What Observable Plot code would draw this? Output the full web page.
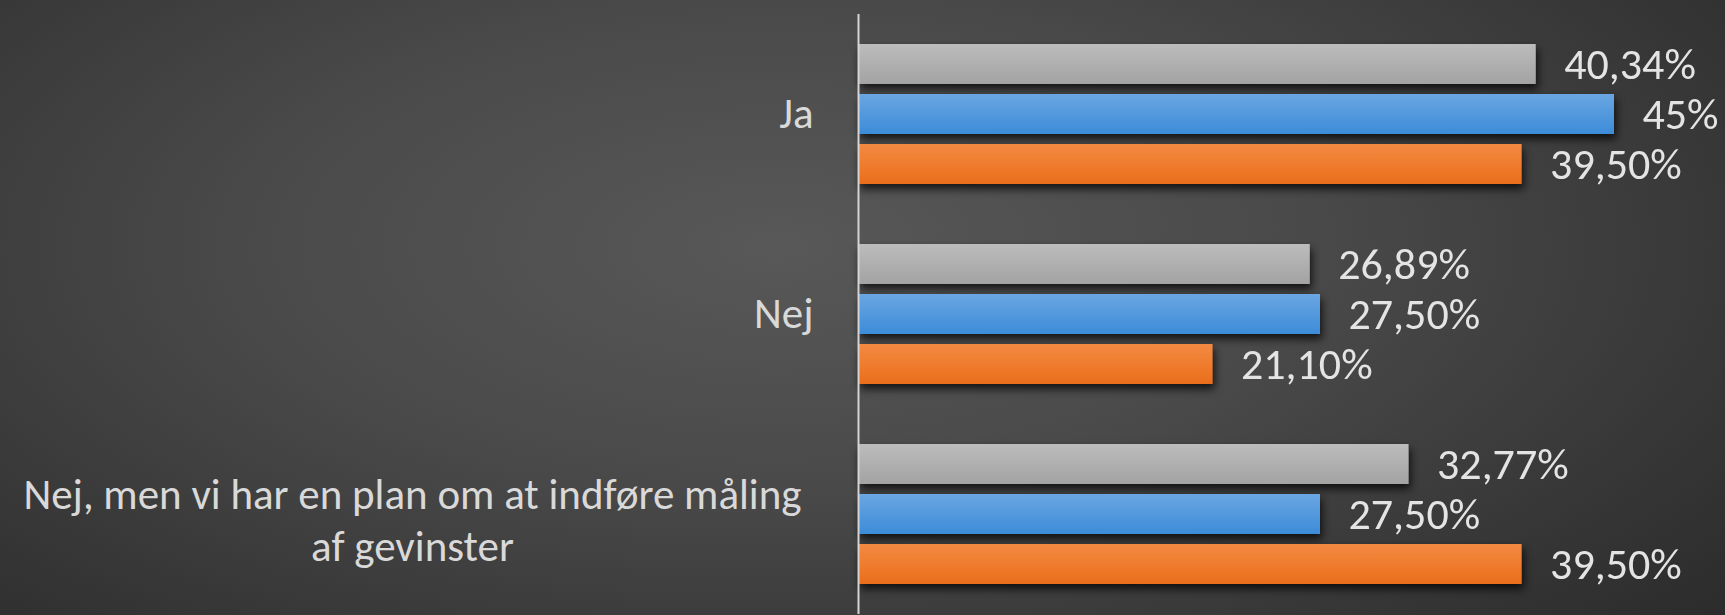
<!DOCTYPE html>
<html>
<head>
<meta charset="utf-8">
<script src="https://cdn.jsdelivr.net/npm/d3@7"></script>
<script src="https://cdn.jsdelivr.net/npm/@observablehq/plot@0.6"></script>
<style>
  html, body { margin: 0; padding: 0; }
  body {
    width: 1725px; height: 615px; overflow: hidden;
    background: radial-gradient(ellipse 75% 95% at 45% 40%, #585858 0%, #4a4a4a 40%, #343434 80%, #2a2a2a 100%);
    font-family: Carlito, Calibri, Lato, sans-serif;
  }
  #chart svg { display: block; background: transparent; }
</style>
</head>
<body>
<div id="chart"></div>
<script>
const categories = ["Ja", "Nej", "Nej, men vi har en plan om at indføre måling af gevinster"];
const categoryLabels = ["Ja", "Nej", "Nej, men vi har en plan om at indføre måling\naf gevinster"];
const series = ["Serie 1", "Serie 2", "Serie 3"];
const serie1 = [40.34, 26.89, 32.77];
const serie2 = [45, 27.5, 27.5];
const serie3 = [39.5, 21.1, 39.5];
const labels1 = ["40,34%", "26,89%", "32,77%"];
const labels2 = ["45%", "27,50%", "27,50%"];
const labels3 = ["39,50%", "21,10%", "39,50%"];

const seriesValues = [serie1, serie2, serie3];
const seriesLabels = [labels1, labels2, labels3];
const data = [];
categories.forEach((c, i) => {
  series.forEach((s, j) => {
    data.push({category: c, series: s, value: seriesValues[j][i], label: seriesLabels[j][i]});
  });
});
const catData = categories.map((c, i) => ({category: c, label: categoryLabels[i]}));

const gradientStops = [
  ["#bcbcbc", "#a3a3a3"],
  ["#6aa6e2", "#3d8cd8"],
  ["#f38a42", "#ea6e1c"]
];

function defs() {
  const g = d3.create("svg:defs");
  gradientStops.forEach((st, i) => {
    const lg = g.append("linearGradient").attr("id", "grad" + i)
      .attr("x1", 0).attr("y1", 0).attr("x2", 0).attr("y2", 1);
    lg.append("stop").attr("offset", "0%").attr("stop-color", st[0]);
    lg.append("stop").attr("offset", "100%").attr("stop-color", st[1]);
  });
  const f = g.append("filter").attr("id", "shadow")
    .attr("x", "-5%").attr("y", "-20%").attr("width", "115%").attr("height", "160%");
  f.append("feDropShadow").attr("dx", 2).attr("dy", 5).attr("stdDeviation", 4)
    .attr("flood-color", "#000").attr("flood-opacity", 0.75);
  return g.node();
}

const labelColor = "#d9d9d9";
const fontSize = 43;

const chart = Plot.plot({
  width: 1725,
  height: 615,
  marginLeft: 858,
  marginRight: 111,
  marginTop: 13,
  marginBottom: 0,
  style: {color: labelColor, fontFamily: "Carlito, Calibri, Lato, sans-serif", background: "transparent"},
  x: {domain: [0, 45], axis: null},
  y: {domain: series, paddingInner: 0.2, paddingOuter: 0.59, axis: null},
  fy: {domain: categories, padding: 0, axis: null},
  color: {domain: series, range: ["url(#grad0)", "url(#grad1)", "url(#grad2)"]},
  marks: [
    defs,
    Plot.barX(data, {fy: "category", y: "series", x: "value", fill: "series"}),
    Plot.ruleX([0], {stroke: "#d4d4d4", strokeWidth: 2}),
    Plot.text(data, {
      fy: "category", y: "series", x: "value", text: "label",
      textAnchor: "start", dx: 28, fill: "#e4e4e4", fontSize: 44
    }),
    Plot.text(catData.slice(0, 2), {
      fy: "category", text: "label", frameAnchor: "left",
      textAnchor: "end", dx: -45, fill: labelColor, fontSize
    }),
    Plot.text(catData.slice(2), {
      fy: "category", text: "label", frameAnchor: "left",
      textAnchor: "middle", dx: -446, dy: 4, lineHeight: 1.2, fill: labelColor, fontSize
    })
  ]
});

chart.querySelectorAll('g[aria-label="bar"]').forEach(g => g.setAttribute("filter", "url(#shadow)"));
document.getElementById("chart").appendChild(chart);
</script>
</body>
</html>
